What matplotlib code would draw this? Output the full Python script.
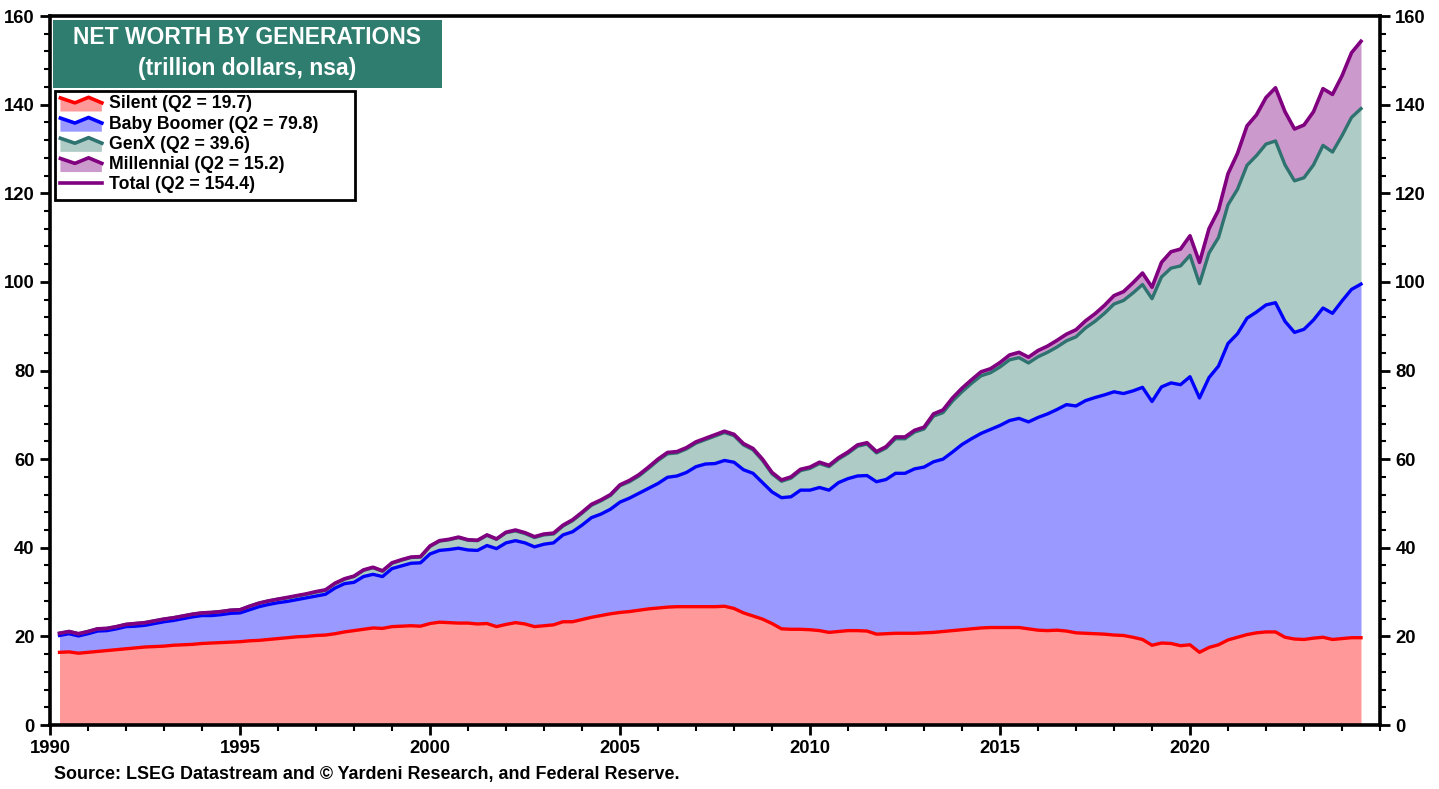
import numpy as np
import pandas as pd
import matplotlib
matplotlib.use("Agg")
import matplotlib.pyplot as plt
from matplotlib.patches import Rectangle, Polygon
from matplotlib.lines import Line2D
from matplotlib.legend_handler import HandlerBase
from matplotlib.ticker import FixedLocator, MultipleLocator

plt.rcParams['font.family'] = ['Liberation Sans', 'DejaVu Sans']
plt.rcParams['font.weight'] = 'bold'

# ---------------- data (trillion dollars, quarterly 1990Q1 - 2024Q2) ----------------
first_quarter = "1990Q1"
last_quarter = "2024Q2"

silent = [
    16.4, 16.5, 16.2, 16.4,  16.6, 16.8, 17.0, 17.2,  17.4, 17.6, 17.7, 17.8,
    18.0, 18.1, 18.2, 18.4,  18.5, 18.6, 18.7, 18.8,  19.0, 19.1, 19.3, 19.5,
    19.7, 19.9, 20.0, 20.2,  20.3, 20.6, 21.0, 21.3,  21.6, 21.9, 21.8, 22.2,
    22.3, 22.4, 22.3, 22.9,  23.2, 23.1, 23.0, 23.0,  22.8, 22.9, 22.2, 22.7,
    23.1, 22.8, 22.2, 22.4,  22.6, 23.3, 23.3, 23.8,  24.3, 24.7, 25.1, 25.4,
    25.6, 25.9, 26.2, 26.4,  26.6, 26.7, 26.7, 26.7,  26.7, 26.7, 26.8, 26.3,
    25.3, 24.6, 23.9, 22.9,  21.7, 21.6, 21.6, 21.5,  21.3, 20.9, 21.1, 21.3,
    21.3, 21.2, 20.5, 20.6,  20.7, 20.7, 20.7, 20.8,  20.9, 21.1, 21.3, 21.5,
    21.7, 21.9, 22.0, 22.0,  22.0, 22.0, 21.7, 21.4,  21.3, 21.4, 21.2, 20.8,
    20.7, 20.6, 20.5, 20.3,  20.2, 19.8, 19.3, 18.0,  18.5, 18.4, 17.9, 18.1,
    16.4, 17.5, 18.1, 19.2,  19.8, 20.4, 20.8, 21.0,  21.0, 19.8, 19.4, 19.3,
    19.6, 19.8, 19.3, 19.5,  19.7, 19.7,
]

boomer = [
    3.8, 4.1, 3.9, 4.2,  4.6, 4.5, 4.7, 5.0,  4.9, 4.9, 5.2, 5.5,
    5.6, 5.9, 6.2, 6.3,  6.2, 6.3, 6.5, 6.5,  7.0, 7.6, 7.9, 8.1,
    8.2, 8.4, 8.7, 8.9,  9.2, 10.3, 10.9, 10.9,  11.9, 12.1, 11.7, 13.1,
    13.6, 14.1, 14.3, 15.7,  16.2, 16.5, 16.9, 16.5,  16.6, 17.6, 17.6, 18.4,
    18.5, 18.3, 18.0, 18.4,  18.5, 19.6, 20.3, 21.3,  22.5, 22.9, 23.6, 24.9,
    25.6, 26.4, 27.2, 28.1,  29.3, 29.5, 30.3, 31.6,  32.2, 32.3, 32.9, 33.0,
    32.3, 32.2, 30.8, 29.7,  29.6, 29.9, 31.4, 31.5,  32.3, 32.1, 33.6, 34.3,
    34.9, 35.1, 34.4, 34.8,  36.1, 36.1, 37.1, 37.4,  38.5, 38.9, 40.3, 41.8,
    42.9, 43.9, 44.7, 45.6,  46.7, 47.2, 46.7, 48.0,  48.9, 49.8, 51.1, 51.2,
    52.5, 53.3, 54.0, 54.9,  54.6, 55.6, 56.9, 55.0,  57.8, 58.8, 58.9, 60.5,
    57.4, 60.9, 62.9, 66.9,  68.5, 71.4, 72.4, 73.8,  74.3, 71.3, 69.2, 70.0,
    71.8, 74.3, 73.6, 76.2,  78.6, 79.8,
]

genx = [
    0.5, 0.5, 0.5, 0.5,  0.5, 0.5, 0.5, 0.5,  0.6, 0.6, 0.6, 0.6,
    0.6, 0.6, 0.6, 0.6,  0.7, 0.7, 0.7, 0.7,  0.8, 0.8, 0.8, 0.8,
    0.8, 0.8, 0.8, 0.9,  0.9, 1.0, 1.0, 1.3,  1.4, 1.5, 1.2, 1.2,
    1.3, 1.3, 1.3, 1.7,  2.1, 2.2, 2.4, 2.2,  2.2, 2.3, 2.1, 2.3,
    2.2, 2.1, 2.1, 2.1,  2.0, 2.0, 2.5, 2.7,  2.8, 3.0, 3.1, 3.7,
    3.7, 3.9, 4.5, 5.2,  5.3, 5.2, 5.3, 5.3,  5.5, 6.2, 6.3, 6.0,
    5.6, 5.3, 5.0, 4.1,  3.7, 4.2, 4.4, 4.9,  5.4, 5.3, 5.3, 5.7,
    6.7, 7.1, 6.5, 7.1,  7.8, 7.8, 8.3, 8.6,  10.3, 10.5, 11.5, 11.9,
    12.5, 13.0, 12.8, 13.2,  13.7, 13.7, 13.3, 13.7,  13.9, 14.1, 14.4, 15.6,
    16.4, 17.2, 18.4, 19.8,  21.0, 22.1, 23.2, 23.2,  24.8, 25.9, 26.8, 27.4,
    25.8, 28.1, 29.0, 31.3,  32.6, 34.5, 35.3, 36.3,  36.5, 35.3, 34.2, 34.2,
    35.0, 36.7, 36.4, 37.3,  38.8, 39.6,
]

millennial = [
    0.0, 0.0, 0.0, 0.0,  0.0, 0.0, 0.0, 0.0,  0.0, 0.0, 0.0, 0.0,
    0.0, 0.0, 0.0, 0.0,  0.0, 0.0, 0.0, 0.0,  0.0, 0.0, 0.0, 0.0,
    0.1, 0.1, 0.1, 0.1,  0.1, 0.1, 0.1, 0.1,  0.1, 0.1, 0.1, 0.1,
    0.1, 0.1, 0.1, 0.1,  0.1, 0.1, 0.1, 0.1,  0.1, 0.1, 0.1, 0.1,
    0.2, 0.2, 0.2, 0.2,  0.2, 0.2, 0.2, 0.2,  0.2, 0.2, 0.2, 0.2,
    0.3, 0.3, 0.3, 0.3,  0.3, 0.3, 0.3, 0.3,  0.3, 0.3, 0.3, 0.3,
    0.3, 0.3, 0.3, 0.3,  0.3, 0.3, 0.3, 0.3,  0.3, 0.3, 0.3, 0.3,
    0.3, 0.3, 0.3, 0.3,  0.4, 0.4, 0.4, 0.4,  0.5, 0.6, 0.7, 0.8,
    0.8, 0.9, 0.9, 1.0,  1.1, 1.2, 1.3, 1.4,  1.4, 1.5, 1.5, 1.6,
    1.6, 1.7, 1.8, 1.9,  2.0, 2.3, 2.6, 2.6,  3.3, 3.7, 3.8, 4.4,
    4.8, 5.5, 6.2, 7.0,  8.1, 8.9, 9.2, 10.5,  12.0, 12.0, 11.7, 11.9,
    12.0, 12.8, 13.0, 13.5,  14.6, 15.2,
]

legend_labels = [
    "Silent (Q2 = 19.7)",
    "Baby Boomer (Q2 = 79.8)",
    "GenX (Q2 = 39.6)",
    "Millennial (Q2 = 15.2)",
    "Total (Q2 = 154.4)",
]
x_major_ticks = [1990, 1995, 2000, 2005, 2010, 2015, 2020]
title_line1 = "NET WORTH BY GENERATIONS"
title_line2 = "(trillion dollars, nsa)"
source_text = "Source: LSEG Datastream and \u00a9 Yardeni Research, and Federal Reserve."

# ---------------- styling ----------------
FILL = ['#FF9999', '#9999FF', '#AECBC6', '#CC99CC']
LINE = ['#FF0000', '#0000FF', '#2E7370', '#800080']
TOTAL_COLOR = '#800080'
TITLE_BG = '#2E7D6F'

W, H = 1439, 789
fig = plt.figure(figsize=(W / 100, H / 100), dpi=100)
ax = fig.add_axes([50 / W, 1 - 725 / H, (1380 - 50) / W, (725 - 16) / H])

periods = pd.period_range(first_quarter, last_quarter, freq='Q')
t = np.array([p.year + p.quarter / 4.0 for p in periods])

layers = [np.array(silent), np.array(boomer), np.array(genx), np.array(millennial)]
cum = np.cumsum(np.vstack(layers), axis=0)
base = np.zeros_like(t)
for i in range(4):
    ax.fill_between(t, base, cum[i], color=FILL[i], lw=0, zorder=1)
    base = cum[i]
for i in range(3):
    ax.plot(t, cum[i], color=LINE[i], lw=2.4, zorder=3, solid_joinstyle='round')
ax.plot(t, cum[3], color=TOTAL_COLOR, lw=2.6, zorder=4, solid_joinstyle='round')

ax.set_xlim(1990, 2025)
ax.set_ylim(0, 160)
ax.xaxis.set_major_locator(FixedLocator(x_major_ticks))
ax.xaxis.set_minor_locator(MultipleLocator(1))
ax.yaxis.set_major_locator(MultipleLocator(20))
ax.yaxis.set_minor_locator(MultipleLocator(4))
ax.tick_params(axis='both', which='major', direction='out', length=7, width=2,
               labelsize=13.3, right=True, labelright=True, pad=4)
ax.tick_params(axis='both', which='minor', direction='out', length=4, width=1.5,
               right=True)
for lab in ax.get_xticklabels() + ax.get_yticklabels():
    lab.set_fontweight('bold')
for sp in ax.spines.values():
    sp.set_linewidth(2.6)
    sp.set_color('black')


# ---------------- legend with zig-zag area icons ----------------
class AreaProxy:
    def __init__(self, fill, line):
        self.fill = fill
        self.line = line


class AreaHandler(HandlerBase):
    def create_artists(self, legend, orig_handle, xdescent, ydescent,
                       width, height, fontsize, trans):
        xs = np.array([0.0, 0.35, 0.68, 1.0]) * width - xdescent
        ys = np.array([0.85, 0.45, 0.90, 0.45]) * height - ydescent
        y0 = -ydescent - 0.25 * height
        poly = Polygon(np.column_stack([np.r_[xs, xs[-1], xs[0]],
                                        np.r_[ys, y0, y0]]),
                       closed=True, facecolor=orig_handle.fill, edgecolor='none',
                       transform=trans)
        ln = Line2D(xs, ys, color=orig_handle.line, lw=2.6, transform=trans,
                    solid_joinstyle='round')
        return [poly, ln]


# legend frame (fixed box, as in the original)
frame = Rectangle((55 / W, 1 - 200 / H), (355 - 55) / W, (200 - 91) / H,
                  transform=fig.transFigure, facecolor='white', edgecolor='black',
                  linewidth=2.0, zorder=9, clip_on=False)
ax.add_artist(frame)

handles = [AreaProxy(FILL[i], LINE[i]) for i in range(4)]
handles.append(Line2D([], [], color=TOTAL_COLOR, lw=2.6))
leg = ax.legend(handles, legend_labels, handler_map={AreaProxy: AreaHandler()},
                loc='upper left', bbox_to_anchor=(56 / W, 1 - 91 / H),
                bbox_transform=fig.transFigure, borderaxespad=0,
                frameon=False, borderpad=0.25, handlelength=2.35,
                handletextpad=0.4, labelspacing=0.18,
                prop={'weight': 'bold', 'size': 12.7})
leg.set_zorder(10)

# ---------------- title box ----------------
rect = Rectangle((53 / W, 1 - 88 / H), (442 - 53) / W, (88 - 20) / H,
                 transform=fig.transFigure, facecolor=TITLE_BG, edgecolor='none',
                 zorder=5)
fig.add_artist(rect)
fig.text(247 / W, 1 - 37 / H, title_line1, ha='center', va='center',
         color='white', fontsize=16.5, fontweight='bold', zorder=6)
fig.text(247 / W, 1 - 68 / H, title_line2, ha='center', va='center',
         color='white', fontsize=16.5, fontweight='bold', zorder=6)

fig.text(54 / W, 1 - 775 / H, source_text, ha='left', va='center',
         fontsize=12.9, fontweight='bold')

fig.savefig('out.png', dpi=100)
